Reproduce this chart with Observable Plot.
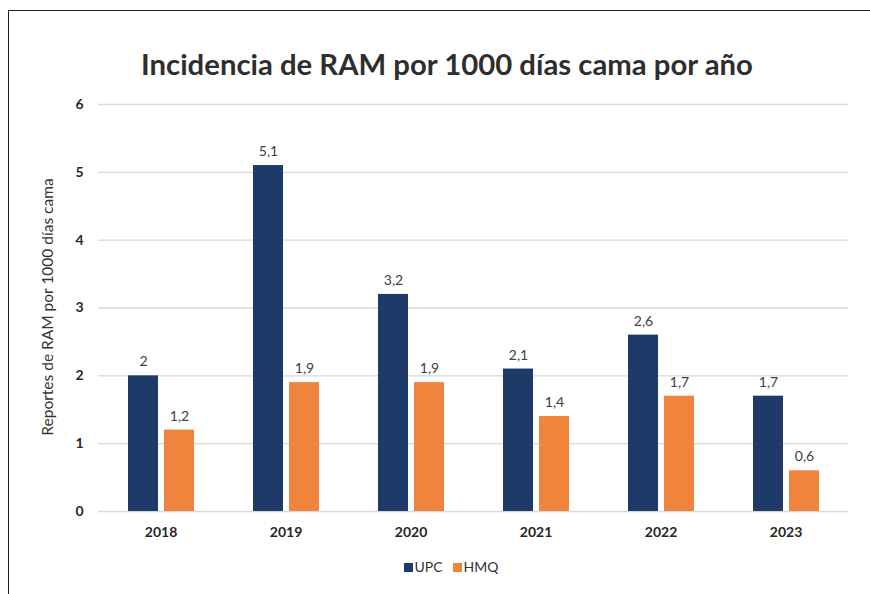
<!DOCTYPE html>
<html>
<head>
<meta charset="utf-8">
<script src="https://cdn.jsdelivr.net/npm/d3@7"></script>
<script src="https://cdn.jsdelivr.net/npm/@observablehq/plot@0.6"></script>
<style>
  html, body { margin: 0; padding: 0; background: #fff; }
  #wrap { position: relative; width: 870px; height: 594px; overflow: hidden; font-family: Lato, "Open Sans", sans-serif; }
  #frame { position: absolute; left: 8px; top: 10px; right: -5px; bottom: -5px; border-left: 1.5px solid #222; border-top: 1.5px solid #222; }
  #title { position: absolute; left: 0; width: 894px; top: 50px; line-height: 28px; text-align: center; font-size: 29.3px; font-weight: 700; color: #2e2e2e; white-space: nowrap; }
  #ylabel { position: absolute; left: 47px; top: 307px; transform: translate(-50%, -50%) rotate(-90deg); font-size: 15.5px; color: #333; white-space: nowrap; }
  #legend { position: absolute; left: 0; width: 902px; top: 558px; line-height: 18px; text-align: center; font-size: 14px; color: #333; }
  #legend span.item { display: inline-block; margin: 0 5px; }
  #legend span.sw { display: inline-block; width: 9px; height: 9px; margin-right: 2px; vertical-align: 0px; }
  #chart { position: absolute; left: 0; top: 0; }
  #chart svg g[aria-label^="fx-axis"] text, #chart svg g[aria-label^="y-axis"] text { font-weight: 700; fill: #262626; }
</style>
</head>
<body>
<div id="wrap">
  <div id="frame"></div>
  <div id="chart"></div>
  <div id="title"></div>
  <div id="ylabel"></div>
  <div id="legend"></div>
</div>
<script>
const titleText = "Incidencia de RAM por 1000 días cama por año";
const yLabelText = "Reportes de RAM por 1000 días cama";
const years = ["2018", "2019", "2020", "2021", "2022", "2023"];
const series = ["UPC", "HMQ"];
const upc = [2, 5.1, 3.2, 2.1, 2.6, 1.7];
const hmq = [1.2, 1.9, 1.9, 1.4, 1.7, 0.6];
const colors = ["#1d3a68", "#f0843c"];
const yTicks = [0, 1, 2, 3, 4, 5, 6];

const data = years.flatMap((y, i) => [
  {year: y, series: "UPC", value: upc[i]},
  {year: y, series: "HMQ", value: hmq[i]}
]);
const fmt = v => String(v).replace(".", ",");

const chart = Plot.plot({
  width: 870,
  height: 594,
  marginTop: 104,
  marginBottom: 83,
  marginLeft: 97,
  marginRight: 21,
  style: {fontFamily: "Lato, 'Open Sans', sans-serif", fontSize: "14px", color: "#333", background: "transparent"},
  facet: {data: data, x: "year"},
  fx: {domain: years, padding: 0, label: null, tickSize: 0, tickPadding: 16},
  x: {domain: series, paddingInner: 0.18, paddingOuter: 0.82, axis: null},
  y: {domain: [0, 6], ticks: yTicks, tickSize: 0, tickPadding: 15, label: null, tickFormat: d => String(d)},
  color: {domain: series, range: colors},
  marks: [
    Plot.ruleY(yTicks, {stroke: "#d9d9d9", strokeWidth: 1.4}),
    Plot.barY(data, {x: "series", y: "value", fill: "series"}),
    Plot.text(data, {x: "series", y: "value", text: d => fmt(d.value), dy: -14, fill: "#404040", fontSize: 14})
  ]
});
document.getElementById("chart").appendChild(chart);

document.getElementById("title").textContent = titleText;
document.getElementById("ylabel").textContent = yLabelText;
const legend = document.getElementById("legend");
series.forEach((s, i) => {
  const item = document.createElement("span");
  item.className = "item";
  const sw = document.createElement("span");
  sw.className = "sw";
  sw.style.background = colors[i];
  item.appendChild(sw);
  item.appendChild(document.createTextNode(s));
  legend.appendChild(item);
});
</script>
</body>
</html>
